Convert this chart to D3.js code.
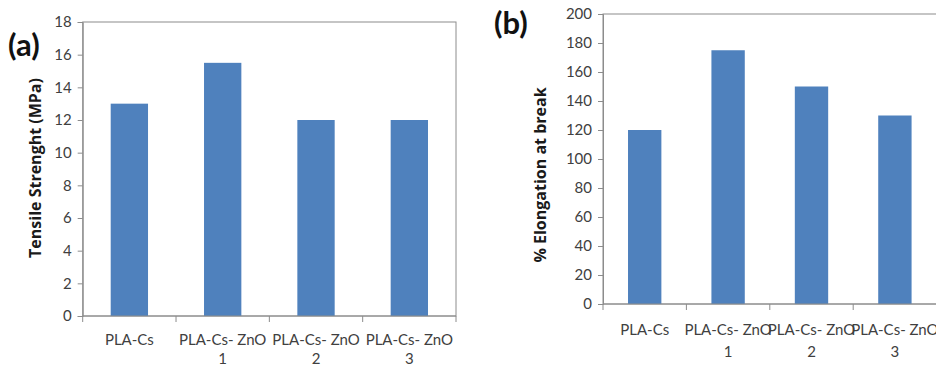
<!DOCTYPE html>
<html lang="en">
<head>
  <meta charset="UTF-8">
  <title>Tensile strength and elongation</title>
  <script src="https://d3js.org/d3.v7.min.js"></script>
  <style>
    body { margin: 0; background: #fff; }
    svg { display: block; font-family: Lato, "Open Sans", sans-serif; }
    .tick-label { fill: #404040; font-size: 15px; }
    .axis-title { fill: #1a1a1a; font-size: 16px; font-weight: bold; font-family: "Open Sans", sans-serif; }
    .panel-tag { fill: #111; font-size: 31px; font-weight: bold; }
  </style>
</head>
<body>
<svg width="936" height="367"></svg>
<script>
const categories = ["PLA-Cs", "PLA-Cs- ZnO 1", "PLA-Cs- ZnO 2", "PLA-Cs- ZnO 3"];
const tensileValues = [13, 15.5, 12, 12];
const elongationValues = [120, 175, 150, 130];
const tensileTicks = [0, 2, 4, 6, 8, 10, 12, 14, 16, 18];
const elongationTicks = [0, 20, 40, 60, 80, 100, 120, 140, 160, 180, 200];

const svg = d3.select("svg");
const barColor = "#4f81bd";
const axisColor = "#8c8c8c";

function drawPanel(opts) {
  const g = svg.append("g");
  const x = d3.scaleBand()
    .domain(categories)
    .range([opts.left, opts.right])
    .paddingInner(0.6)
    .paddingOuter(0.3);
  const y = d3.scaleLinear()
    .domain([0, d3.max(opts.ticks)])
    .range([opts.bottom, opts.top]);

  // plot frame (top + right visible)
  g.append("rect")
    .attr("x", opts.left).attr("y", opts.top)
    .attr("width", opts.right - opts.left).attr("height", opts.bottom - opts.top)
    .attr("fill", "none").attr("stroke", axisColor).attr("stroke-width", 1);

  g.selectAll(".bar")
    .data(opts.values)
    .enter().append("rect")
    .attr("class", "bar")
    .attr("x", (d, i) => x(categories[i]))
    .attr("width", x.bandwidth())
    .attr("y", d => y(d))
    .attr("height", d => y(0) - y(d))
    .attr("fill", barColor);

  // y axis
  const yAxis = d3.axisLeft(y).tickValues(opts.ticks).tickSize(5).tickPadding(6);
  const ya = g.append("g").attr("transform", `translate(${opts.left},0)`).call(yAxis);
  ya.attr("font-family", null).attr("font-size", null);
  ya.select(".domain").attr("stroke", axisColor);
  ya.selectAll(".tick line").attr("stroke", axisColor);
  ya.selectAll(".tick text").attr("class", "tick-label").attr("fill", null);

  // x axis line + boundary ticks
  const step = x.step();
  g.append("line")
    .attr("x1", opts.left).attr("x2", opts.right)
    .attr("y1", y(0)).attr("y2", y(0))
    .attr("stroke", axisColor);
  g.selectAll(".xtick")
    .data(d3.range(categories.length + 1))
    .enter().append("line")
    .attr("x1", i => opts.left + i * step).attr("x2", i => opts.left + i * step)
    .attr("y1", y(0)).attr("y2", y(0) + 6)
    .attr("stroke", axisColor);

  // category labels, wrapped on the last space
  const lbl = g.selectAll(".xlabel")
    .data(categories)
    .enter().append("text")
    .attr("class", "tick-label")
    .attr("text-anchor", "middle")
    .attr("x", d => x(d) + x.bandwidth() / 2);
  lbl.each(function(d) {
    const cut = d.lastIndexOf(" ");
    const lines = d.indexOf("ZnO") >= 0 ? [d.slice(0, cut), d.slice(cut + 1)] : [d];
    lines.forEach((t, k) => {
      d3.select(this).append("tspan")
        .attr("x", x(d) + x.bandwidth() / 2)
        .attr("y", opts.labelY + k * opts.lineGap)
        .text(t);
    });
  });

  // y title
  g.append("text")
    .attr("class", "axis-title")
    .attr("text-anchor", "middle")
    .attr("transform", `translate(${opts.titleX},${opts.titleY}) rotate(-90)`)
    .text(opts.title);

  g.append("text")
    .attr("class", "panel-tag")
    .attr("x", opts.tagX).attr("y", opts.tagY)
    .text(opts.tag);
}

drawPanel({
  values: tensileValues, ticks: tensileTicks,
  left: 82.7, right: 456, top: 22, bottom: 316,
  labelY: 345, lineGap: 19,
  title: "Tensile Strenght (MPa)", titleX: 41, titleY: 168,
  tag: "(a)", tagX: 8, tagY: 56
});

drawPanel({
  values: elongationValues, ticks: elongationTicks,
  left: 603, right: 936.6, top: 14, bottom: 304,
  labelY: 335, lineGap: 22,
  title: "% Elongation at break", titleX: 546, titleY: 175,
  tag: "(b)", tagX: 494, tagY: 34
});
</script>
</body>
</html>
